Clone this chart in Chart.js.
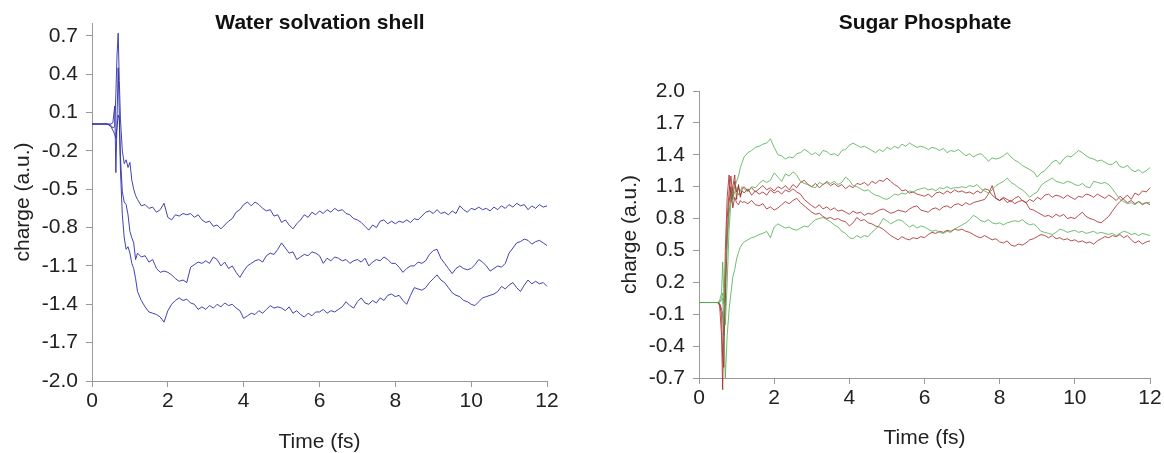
<!DOCTYPE html>
<html><head><meta charset="utf-8">
<script src="https://cdn.jsdelivr.net/npm/chart.js@4.4.1/dist/chart.umd.min.js"></script>
<style>
html,body{margin:0;padding:0;background:#fff;}
#wrap{position:relative;width:1164px;height:453px;overflow:hidden;font-family:"Liberation Sans",Arial,sans-serif;}
.box{position:absolute;top:0;width:582px;height:453px;}
#b1{left:0;} #b2{left:582px;}
.title{position:absolute;top:10px;font-weight:bold;font-size:21px;line-height:24px;color:#111;transform:translateX(-50%);white-space:nowrap;}
</style></head>
<body><div id="wrap">
<div class="box" id="b1"><canvas id="c1" width="582" height="453"></canvas></div>
<div class="box" id="b2"><canvas id="c2" width="582" height="453"></canvas></div>
<div class="title" style="left:320px">Water solvation shell</div>
<div class="title" style="left:925px">Sugar Phosphate</div>
</div>
<script>
// ---------- shared time grid (fs) ----------
const timeTail = [
 1.2,1.3,1.4,1.5,1.6,1.7,1.8,1.9,
 2.0,2.1,2.2,2.3,2.4,2.5,2.6,2.7,2.8,2.9,
 3.0,3.1,3.2,3.3,3.4,3.5,3.6,3.7,3.8,3.9,
 4.0,4.1,4.2,4.3,4.4,4.5,4.6,4.7,4.8,4.9,
 5.0,5.1,5.2,5.3,5.4,5.5,5.6,5.7,5.8,5.9,
 6.0,6.1,6.2,6.3,6.4,6.5,6.6,6.7,6.8,6.9,
 7.0,7.1,7.2,7.3,7.4,7.5,7.6,7.7,7.8,7.9,
 8.0,8.1,8.2,8.3,8.4,8.5,8.6,8.7,8.8,8.9,
 9.0,9.1,9.2,9.3,9.4,9.5,9.6,9.7,9.8,9.9,
 10.0,10.1,10.2,10.3,10.4,10.5,10.6,10.7,10.8,10.9,
 11.0,11.1,11.2,11.3,11.4,11.5,11.6,11.7,11.8,11.9,
 12.0];
const timeWaterEarly = [0,0.2,0.4,0.5,0.55,0.6,0.63,0.66,0.69,0.72,0.75,0.8,0.85,0.9,0.95,1.0,1.05,1.1,1.15];
const timeSugarEarly = [0,0.2,0.4,0.5,0.55,0.6,0.63,0.66,0.7,0.75,0.8,0.85,0.9,0.95,1.0,1.05,1.1,1.15];

const xTicks = [0,2,4,6,8,10,12];
const yTicksWater = [-2.0,-1.7,-1.4,-1.1,-0.8,-0.5,-0.2,0.1,0.4,0.7];
const yTicksSugar = [-0.7,-0.4,-0.1,0.2,0.5,0.8,1.1,1.4,1.7,2.0];

// ---------- Water solvation shell ----------
const waterTop = [
 0.01,0.01,0.01,0.0,-0.02,-0.01,0.25,0.55,0.72,0.35,0.05,-0.2,-0.3,-0.27,-0.33,-0.29,-0.43,-0.50,-0.55,
 -0.58,-0.63,-0.62,-0.65,-0.64,-0.68,-0.66,-0.61,
 -0.72,-0.74,-0.70,-0.71,-0.69,-0.70,-0.69,-0.72,-0.70,-0.74,
 -0.76,-0.75,-0.79,-0.78,-0.81,-0.78,-0.75,-0.73,-0.68,-0.66,
 -0.62,-0.60,-0.63,-0.60,-0.62,-0.65,-0.67,-0.66,-0.71,-0.70,
 -0.76,-0.74,-0.78,-0.81,-0.77,-0.74,-0.70,-0.72,-0.68,-0.70,
 -0.67,-0.69,-0.66,-0.68,-0.65,-0.67,-0.66,-0.69,-0.70,-0.73,
 -0.74,-0.76,-0.79,-0.82,-0.78,-0.80,-0.75,-0.74,-0.77,-0.75,
 -0.77,-0.75,-0.76,-0.74,-0.76,-0.73,-0.74,-0.71,-0.68,-0.67,
 -0.69,-0.66,-0.69,-0.68,-0.70,-0.67,-0.69,-0.63,-0.66,-0.68,
 -0.65,-0.66,-0.64,-0.66,-0.65,-0.67,-0.64,-0.66,-0.63,-0.65,
 -0.62,-0.64,-0.61,-0.63,-0.62,-0.66,-0.63,-0.65,-0.62,-0.64,
 -0.63];
const waterMid = [
 0.01,0.01,0.01,0.01,0.02,0.15,-0.37,0.05,0.45,0.08,-0.25,-0.52,-0.6,-0.62,-0.7,-0.83,-0.88,-0.92,-1.05,
 -1.00,-1.03,-1.02,-1.07,-1.05,-1.12,-1.15,-1.14,
 -1.15,-1.17,-1.20,-1.22,-1.21,-1.23,-1.11,-1.09,-1.07,-1.08,
 -1.06,-1.08,-1.03,-1.05,-1.10,-1.07,-1.12,-1.10,-1.15,-1.19,
 -1.14,-1.10,-1.08,-1.06,-1.05,-1.07,-1.02,-1.00,-1.01,-0.97,
 -0.92,-0.96,-1.00,-0.99,-1.05,-1.03,-1.01,-1.02,-0.99,-1.00,
 -1.02,-1.08,-1.04,-1.06,-1.03,-1.04,-1.06,-1.05,-1.08,-1.06,
 -1.05,-1.07,-1.04,-1.10,-1.07,-1.05,-1.06,-1.03,-1.05,-1.08,
 -1.08,-1.11,-1.15,-1.12,-1.10,-1.10,-1.07,-1.08,-1.06,-1.01,
 -0.98,-0.97,-1.04,-1.08,-1.12,-1.16,-1.12,-1.10,-1.12,-1.13,
 -1.12,-1.09,-1.05,-1.07,-1.10,-1.14,-1.12,-1.10,-1.11,-1.08,
 -1.00,-0.96,-0.92,-0.91,-0.89,-0.90,-0.93,-0.91,-0.90,-0.92,
 -0.94];
const waterLow = [
 0.01,0.01,0.01,-0.01,-0.04,-0.07,-0.1,-0.02,0.08,0.05,-0.35,-0.7,-0.88,-0.97,-0.95,-1.0,-1.08,-1.12,-1.2,
 -1.30,-1.37,-1.42,-1.46,-1.47,-1.48,-1.50,-1.54,
 -1.45,-1.40,-1.37,-1.35,-1.37,-1.36,-1.39,-1.40,-1.44,-1.42,
 -1.44,-1.41,-1.43,-1.40,-1.42,-1.39,-1.41,-1.40,-1.43,-1.45,
 -1.51,-1.49,-1.47,-1.48,-1.45,-1.47,-1.44,-1.41,-1.43,-1.42,
 -1.43,-1.45,-1.42,-1.47,-1.45,-1.48,-1.50,-1.47,-1.49,-1.46,
 -1.46,-1.44,-1.47,-1.45,-1.46,-1.44,-1.42,-1.38,-1.41,-1.43,
 -1.38,-1.35,-1.39,-1.40,-1.37,-1.39,-1.35,-1.37,-1.33,-1.32,
 -1.34,-1.33,-1.37,-1.40,-1.33,-1.27,-1.28,-1.29,-1.27,-1.23,
 -1.20,-1.17,-1.21,-1.23,-1.27,-1.31,-1.33,-1.34,-1.37,-1.38,
 -1.40,-1.41,-1.38,-1.35,-1.34,-1.33,-1.32,-1.30,-1.26,-1.28,
 -1.25,-1.23,-1.27,-1.30,-1.25,-1.21,-1.24,-1.22,-1.24,-1.23,
 -1.26];

// ---------- Sugar Phosphate ----------
const sugarGreen1 = [
 0.01,0.01,0.01,0.01,0.02,0.05,0.1,0.0,0.3,0.6,0.85,1.0,1.05,1.1,1.15,1.2,1.28,1.33,
 1.38,1.42,1.44,1.47,1.48,1.50,1.51,1.55,
 1.47,1.40,1.39,1.36,1.38,1.37,1.41,1.42,1.45,1.43,
 1.40,1.42,1.39,1.44,1.43,1.40,1.41,1.39,1.44,1.45,
 1.49,1.51,1.49,1.47,1.48,1.46,1.44,1.42,1.45,1.43,
 1.47,1.45,1.48,1.46,1.50,1.48,1.51,1.49,1.47,1.48,
 1.47,1.45,1.47,1.46,1.44,1.46,1.42,1.44,1.43,1.45,
 1.42,1.39,1.41,1.38,1.40,1.41,1.38,1.34,1.37,1.36,
 1.37,1.39,1.42,1.38,1.35,1.33,1.30,1.28,1.26,1.24,
 1.19,1.23,1.25,1.29,1.33,1.35,1.31,1.36,1.39,1.38,
 1.41,1.44,1.42,1.39,1.37,1.36,1.34,1.35,1.33,1.31,
 1.31,1.34,1.29,1.28,1.30,1.26,1.24,1.26,1.23,1.25,
 1.28];
const sugarGreen2 = [
 0.01,0.01,0.01,0.01,0.03,0.1,0.39,0.1,-0.2,0.2,0.7,0.95,1.0,1.05,1.08,1.02,1.06,1.1,
 1.08,1.05,1.10,1.09,1.13,1.16,1.14,1.16,
 1.23,1.19,1.15,1.22,1.20,1.24,1.21,1.15,1.13,1.12,
 1.10,1.09,1.14,1.12,1.15,1.13,1.15,1.12,1.14,1.19,
 1.16,1.11,1.10,1.08,1.06,1.07,1.04,1.02,1.01,0.99,
 0.98,1.00,1.03,1.02,1.04,1.03,1.06,1.05,1.07,1.08,
 1.09,1.07,1.08,1.06,1.09,1.08,1.10,1.08,1.09,1.09,
 1.10,1.09,1.11,1.10,1.12,1.08,1.06,1.04,1.07,1.11,
 1.13,1.15,1.18,1.14,1.12,1.09,1.07,1.04,1.00,1.03,
 1.05,1.11,1.14,1.16,1.18,1.15,1.14,1.13,1.15,1.14,
 1.12,1.11,1.13,1.10,1.09,1.15,1.14,1.13,1.14,1.12,
 1.08,1.03,0.98,0.96,0.94,0.95,0.93,0.96,0.94,0.95,
 0.95];
const sugarGreen3 = [
 0.01,0.01,0.01,0.01,0.01,0.03,0.05,-0.2,-0.7,-0.3,-0.06,0.1,0.25,0.32,0.42,0.48,0.53,0.56,
 0.58,0.60,0.62,0.63,0.65,0.66,0.68,0.62,
 0.72,0.75,0.73,0.71,0.72,0.70,0.69,0.71,0.73,0.72,
 0.76,0.79,0.80,0.81,0.79,0.77,0.74,0.72,0.68,0.66,
 0.62,0.61,0.64,0.62,0.64,0.63,0.67,0.70,0.74,0.80,
 0.78,0.75,0.77,0.79,0.78,0.75,0.72,0.74,0.71,0.73,
 0.72,0.70,0.68,0.69,0.67,0.66,0.68,0.67,0.70,0.72,
 0.74,0.76,0.79,0.83,0.81,0.78,0.77,0.79,0.76,0.75,
 0.76,0.74,0.76,0.77,0.78,0.77,0.79,0.76,0.74,0.75,
 0.72,0.68,0.67,0.66,0.65,0.67,0.70,0.69,0.67,0.68,
 0.69,0.67,0.68,0.66,0.67,0.68,0.66,0.67,0.66,0.65,
 0.66,0.64,0.66,0.68,0.67,0.65,0.66,0.64,0.66,0.65,
 0.64];
const sugarRed1 = [
 0.01,0.01,0.01,0.01,-0.02,-0.3,-0.81,-0.2,0.5,1.0,1.21,0.95,1.1,1.21,0.98,1.12,1.0,1.08,
 1.10,1.06,1.09,1.05,1.08,1.11,1.07,1.09,
 1.06,1.10,1.08,1.11,1.07,1.12,1.09,1.14,1.16,1.12,
 1.10,1.13,1.09,1.12,1.14,1.11,1.13,1.10,1.12,1.08,
 1.11,1.09,1.13,1.12,1.14,1.11,1.15,1.13,1.16,1.15,
 1.18,1.15,1.12,1.10,1.06,1.07,1.04,1.05,1.03,1.02,
 1.01,1.03,1.00,1.04,1.05,1.03,1.06,1.04,1.07,1.05,
 1.06,1.04,1.05,1.03,1.06,1.04,1.08,1.07,1.02,0.99,
 0.97,1.00,0.98,0.96,0.99,1.01,0.97,0.95,0.98,0.96,
 1.00,0.98,1.02,1.03,1.00,1.02,1.01,0.99,1.02,1.00,
 0.98,1.01,1.00,1.03,1.02,1.00,1.03,1.01,0.99,1.02,
 1.00,0.97,1.01,0.98,0.95,0.97,0.94,0.96,0.93,0.95,
 0.93];
const sugarRed2 = [
 0.01,0.01,0.01,0.01,-0.01,-0.1,-0.5,-0.6,0.2,0.8,1.05,1.2,0.98,1.15,1.05,1.1,1.02,1.06,
 1.04,1.08,1.02,1.06,1.03,1.05,1.02,1.07,
 1.04,1.06,1.03,1.07,1.05,1.08,1.05,1.03,0.98,0.95,
 0.92,0.90,0.93,0.89,0.91,0.88,0.90,0.87,0.88,0.86,
 0.84,0.87,0.85,0.86,0.83,0.85,0.84,0.86,0.88,0.89,
 0.87,0.85,0.86,0.88,0.87,0.86,0.89,0.91,0.92,0.88,
 0.87,0.86,0.89,0.90,0.88,0.91,0.92,0.90,0.93,0.94,
 0.92,0.95,0.93,0.95,0.96,0.97,0.98,1.03,1.11,0.99,
 0.97,0.99,0.95,0.97,0.94,0.96,0.97,0.95,0.89,0.88,
 0.86,0.84,0.82,0.83,0.81,0.84,0.82,0.84,0.80,0.81,
 0.80,0.83,0.86,0.82,0.80,0.79,0.77,0.76,0.79,0.82,
 0.87,0.92,0.96,0.99,1.02,0.98,1.04,1.02,1.06,1.05,
 1.09];
const sugarRed3 = [
 0.01,0.01,0.01,0.01,0.0,-0.05,-0.1,-0.3,0.0,0.6,0.95,1.1,0.9,1.0,0.95,0.93,0.97,0.95,
 0.96,0.94,0.97,0.93,0.92,0.94,0.89,0.91,
 0.88,0.90,0.93,0.96,0.94,0.97,0.99,0.95,0.92,0.89,
 0.86,0.84,0.85,0.82,0.80,0.81,0.79,0.80,0.78,0.77,
 0.73,0.76,0.81,0.78,0.79,0.76,0.75,0.73,0.72,0.70,
 0.67,0.64,0.62,0.60,0.63,0.61,0.60,0.62,0.61,0.63,
 0.62,0.65,0.67,0.66,0.68,0.67,0.69,0.68,0.70,0.69,
 0.70,0.68,0.67,0.65,0.63,0.62,0.64,0.62,0.60,0.61,
 0.58,0.57,0.59,0.55,0.54,0.56,0.55,0.57,0.60,0.61,
 0.63,0.65,0.64,0.62,0.64,0.61,0.62,0.60,0.61,0.59,
 0.60,0.58,0.59,0.57,0.58,0.56,0.59,0.61,0.63,0.62,
 0.64,0.63,0.65,0.62,0.64,0.60,0.57,0.59,0.56,0.58,
 0.59];

const FONT = '"Liberation Sans", Arial, sans-serif';
const BLUE = 'rgba(45,45,170,0.9)';
const GREEN = 'rgba(80,170,80,0.8)';
const RED = 'rgba(165,35,35,0.8)';

function ds(times, vals, color) {
  return {
    data: times.map((t, i) => ({x: t, y: vals[i]})),
    borderColor: color, borderWidth: 1, pointRadius: 0, tension: 0,
    fill: false, clip: false
  };
}

function makeChart(id, datasets, o) {
  return new Chart(document.getElementById(id), {
    type: 'line',
    data: {datasets},
    options: {
      responsive: false, animation: false, events: [],
      layout: {padding: {top: o.padTop, right: o.padRight, left: 0, bottom: 0}},
      plugins: {legend: {display: false}, tooltip: {enabled: false}, title: {display: false}},
      scales: {
        x: {
          type: 'linear', min: 0, max: 12,
          afterBuildTicks: s => { s.ticks = xTicks.map(v => ({value: v})); },
          ticks: {color: '#222', font: {size: 21, family: FONT}, padding: 2, maxRotation: 0, autoSkip: false},
          grid: {drawOnChartArea: false, drawTicks: true, tickLength: 6, color: '#999'},
          border: {display: true, color: '#999', width: 1},
          title: {display: true, text: 'Time (fs)', color: '#222', font: {size: 21, family: FONT, lineHeight: 1.0}, padding: {top: 0, bottom: o.xTitlePad}},
          afterFit: s => { s.height = o.xHeight; }
        },
        y: {
          type: 'linear', min: o.yMin, max: o.yMax,
          afterBuildTicks: s => { s.ticks = o.yTicks.map(v => ({value: v})); },
          ticks: {color: '#222', font: {size: 21, family: FONT}, padding: 8, callback: v => Number(v).toFixed(1)},
          grid: {drawOnChartArea: false, drawTicks: true, tickLength: 6, color: '#999'},
          border: {display: true, color: '#999', width: 1},
          title: {display: true, text: 'charge (a.u.)', color: '#222', font: {size: 21, family: FONT, lineHeight: 1.0}, padding: {top: o.yTitlePad, bottom: 0}},
          afterFit: s => { s.width = o.yWidth; }
        }
      }
    }
  });
}

const tW = timeWaterEarly.concat(timeTail);
const tS = timeSugarEarly.concat(timeTail);

makeChart('c1', [
  ds(tW, waterTop, BLUE), ds(tW, waterMid, BLUE), ds(tW, waterLow, BLUE)
], {padTop: 23, padRight: 35, xHeight: 72, xTitlePad: 0, yWidth: 92, yTitlePad: 13,
    yMin: -2.0, yMax: 0.8, yTicks: yTicksWater});

makeChart('c2', [
  ds(tS, sugarGreen1, GREEN), ds(tS, sugarGreen2, GREEN), ds(tS, sugarGreen3, GREEN),
  ds(tS, sugarRed1, RED), ds(tS, sugarRed2, RED), ds(tS, sugarRed3, RED)
], {padTop: 91, padRight: 14, xHeight: 75, xTitlePad: 4, yWidth: 117, yTitlePad: 38,
    yMin: -0.7, yMax: 2.0, yTicks: yTicksSugar});
</script>
</body></html>
